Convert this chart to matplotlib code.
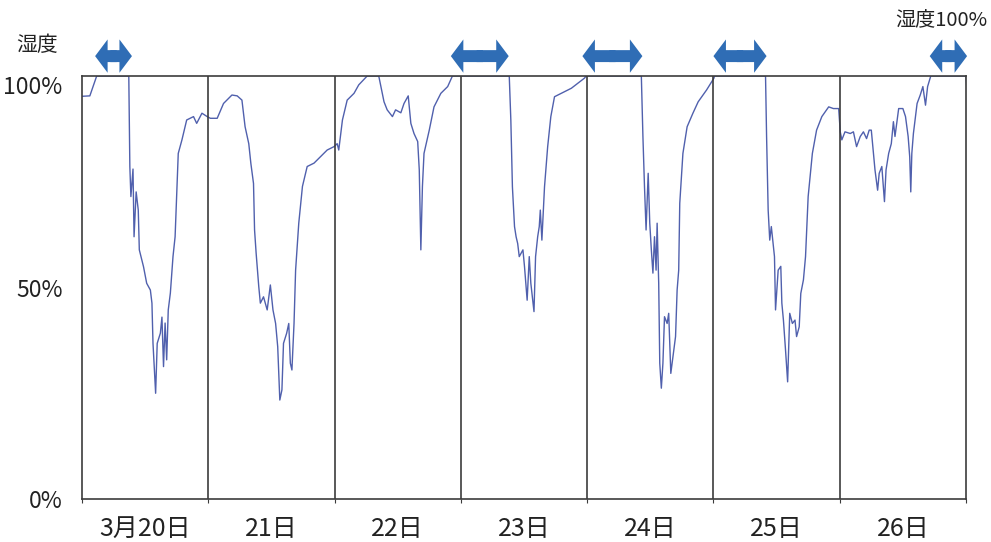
"""
Humidity record, 20-26 March, with the periods at 100% marked by arrows.
"""

import matplotlib
matplotlib.use("Agg")
import matplotlib.pyplot as plt

plt.rcParams["font.family"] = ["Noto Sans CJK JP", "DejaVu Sans"]

# hours since 20 March 00:00 and relative humidity (%)
hours = [
    0.0, 1.5, 2.8, 8.9, 9.1, 9.3, 9.7, 9.9, 10.3, 10.7, 10.9, 11.7, 12.3, 13.0,
    13.3, 13.5, 13.7, 14.0, 14.3, 14.9, 15.2, 15.5, 15.8, 16.1, 16.4, 16.8,
    17.3, 17.7, 18.3, 19.0, 19.9, 21.2, 21.8, 22.8, 23.8,
    24.4, 25.7, 26.9, 28.5, 29.5, 30.4, 31.0, 31.7, 32.1, 32.6, 32.8, 33.1,
    33.6, 33.9, 34.5, 35.2, 35.8, 36.3, 36.8, 37.2, 37.6, 38.0, 38.3, 38.9,
    39.3, 39.6, 39.9, 40.3, 40.6, 41.2, 41.9, 42.8, 44.1, 45.3, 46.6, 47.9,
    48.5, 48.8, 49.5, 50.4, 51.7, 52.6, 54.2, 56.4, 57.4, 58.0, 59.0, 59.6,
    60.6, 61.2, 62.0, 62.5, 63.1, 63.8, 64.1, 64.4, 64.7, 65.0, 66.0, 66.9,
    68.2, 69.5, 70.4,
    81.2, 81.5, 81.8, 82.2, 82.5, 82.8, 83.1, 83.8, 84.1, 84.6, 85.0, 85.3,
    85.9, 86.2, 86.6, 86.9, 87.1, 87.4, 87.9, 88.5, 89.1, 89.8, 93.0, 95.5,
    95.8,
    106.3, 106.6, 106.9, 107.2, 107.6, 107.9, 108.2, 108.5, 108.8, 109.1,
    109.3, 109.6, 109.8, 110.1, 110.4, 110.7, 111.2, 111.5, 111.9, 112.3,
    112.8, 113.1, 113.4, 113.6, 114.2, 115.0, 116.1, 117.1, 118.7, 120.1,
    120.2,
    129.9, 130.1, 130.4, 130.7, 131.0, 131.6, 131.8, 132.3, 132.8, 133.0,
    133.3, 133.7, 134.1, 134.5, 135.0, 135.5, 135.8, 136.3, 136.6, 137.1,
    137.5, 138.0, 138.8, 139.6, 140.6, 141.9, 142.8, 143.8,
    144.1, 144.4, 145.0, 146.0, 146.6, 147.2, 147.9, 148.5, 149.1, 149.6,
    150.0, 150.4, 150.7, 151.2, 151.5, 152.0, 152.5, 152.8, 153.3, 153.8,
    154.2, 154.5, 155.2, 156.0, 156.5, 157.0, 157.3, 157.5, 157.7, 158.0,
    158.7, 159.3, 159.8, 160.3, 160.7, 161.3, 168.0, 168.2,
]
humidity = [
    95.2, 95.3, 100, 100, 78.6, 71.5, 78.0, 62.0, 72.6, 68.3, 58.9, 54.9, 51.0,
    49.4, 46.3, 36.8, 32.0, 25.0, 36.8, 39.2, 43.0, 31.3, 41.6, 32.9, 44.7,
    48.7, 57.3, 62.0, 81.7, 84.9, 89.6, 90.4, 88.8, 91.2, 90.4,
    90.0, 90.0, 93.5, 95.5, 95.3, 94.3, 88.0, 84.0, 79.3, 74.6, 63.6, 58.1,
    50.2, 46.3, 47.8, 44.7, 50.6, 44.7, 41.5, 36.0, 23.4, 25.8, 36.8, 39.2,
    41.5, 32.1, 30.5, 41.5, 54.1, 65.2, 73.9, 78.6, 79.4, 80.9, 82.5, 83.3,
    84.0, 82.5, 89.6, 94.3, 95.9, 97.9, 100, 100, 93.9, 92.0, 90.4, 92.0,
    91.3, 93.5, 95.3, 88.8, 86.4, 84.5, 77.8, 58.9, 73.9, 81.7, 87.2, 92.7,
    95.9, 97.5, 100,
    100, 89.6, 73.8, 64.4, 62.0, 60.4, 57.3, 58.9, 54.9, 47.0, 57.3, 51.0,
    44.3, 57.3, 62.0, 64.4, 68.3, 61.2, 73.8, 83.3, 90.4, 95.1, 97.1, 99.5,
    100,
    100, 85.7, 73.8, 63.6, 77.0, 65.2, 58.9, 53.4, 62.0, 54.1,
    65.2, 51.0, 32.1, 26.2, 32.1, 43.1, 41.5, 43.9, 29.7, 33.6,
    38.4, 49.4, 54.1, 69.9, 81.7, 88.0, 91.2, 93.9, 96.7, 99.5,
    100,
    100, 85.7, 68.3, 61.2, 64.4, 57.3, 44.7, 54.1, 55.0, 46.3,
    42.3, 35.2, 27.7, 43.9, 41.5, 42.3, 38.4, 40.7, 48.6, 51.8,
    57.3, 71.5, 81.7, 87.2, 90.4, 92.7, 92.3, 92.3,
    86.8, 84.9, 86.8, 86.4, 86.8, 83.3, 85.7, 86.8, 85.2, 87.2,
    87.2, 81.7, 77.8, 73.0, 77.0, 78.6, 70.3, 77.8, 81.7, 84.0,
    89.2, 85.7, 92.3, 92.3, 90.4, 85.7, 80.9, 72.6, 81.7, 86.4,
    93.5, 95.5, 97.5, 93.1, 97.5, 100, 100, 96.3,
]

day_labels = ["3月20日", "21日", "22日", "23日", "24日", "25日", "26日"]
ytick_values = [0, 50, 100]
ytick_labels = ["0%", "50%", "100%"]

# periods with humidity at 100% (hours)
arrow_start = [2.5, 70.1, 95.1, 120.0, 161.1]
arrow_end = [9.5, 81.1, 106.5, 130.1, 168.2]

LINE_COLOR = "#5060ad"
ARROW_COLOR = "#2f6db5"
FRAME_COLOR = "#3c3c3c"
TEXT_COLOR = "#222222"

fig = plt.figure(figsize=(9.91, 5.42), dpi=100)
ax = fig.add_axes([0.0827, 0.0793, 0.8921, 0.8598 - 0.0793])

ax.plot(hours, humidity, color=LINE_COLOR, lw=1.0)

n_days = len(day_labels)
for d in range(1, n_days):
    ax.axvline(d * 24, color=FRAME_COLOR, lw=1.2)

ax.set_xlim(0, n_days * 24)
ax.set_ylim(0, 100)

ax.set_xticks([d * 24 for d in range(n_days + 1)])
ax.set_xticklabels([])
ax.tick_params(axis="x", which="major", length=3, color=FRAME_COLOR)
ax.set_xticks([d * 24 + 12 for d in range(n_days)], minor=True)
ax.set_xticklabels(day_labels, minor=True, fontsize=18, color=TEXT_COLOR)
ax.tick_params(axis="x", which="minor", length=0, pad=12)

ax.set_yticks(ytick_values)
ax.set_yticklabels(ytick_labels, fontsize=16.5, color=TEXT_COLOR)
ax.tick_params(axis="y", length=0, pad=14)
ax.get_yticklabels()[-1].set_va("top")

for sp in ax.spines.values():
    sp.set_color(FRAME_COLOR)
    sp.set_linewidth(1.2)

# double-headed arrows above the frame: two "simple" arrows out from the
# middle, each starting a little past it so the halves overlap
arrow_style = "simple,head_length=9,head_width=24,tail_width=8.6"
for s, e in zip(arrow_start, arrow_end):
    mid = (s + e) / 2
    for tip, back in ((s, mid + 0.6), (e, mid - 0.6)):
        ax.annotate("", xy=(tip, 1.047), xytext=(back, 1.047),
                    xycoords=("data", "axes fraction"),
                    annotation_clip=False,
                    arrowprops=dict(arrowstyle=arrow_style, mutation_scale=1,
                                    color=ARROW_COLOR, lw=0,
                                    shrinkA=0, shrinkB=0))

fig.text(37 / 991, 1 - 45 / 542, "湿度", fontsize=15, color=TEXT_COLOR,
         ha="center", va="center")
fig.text(0.996, 1 - 20 / 542, "湿度100%", fontsize=14.5, color=TEXT_COLOR,
         ha="right", va="center")

fig.savefig("out.png", dpi=100)
